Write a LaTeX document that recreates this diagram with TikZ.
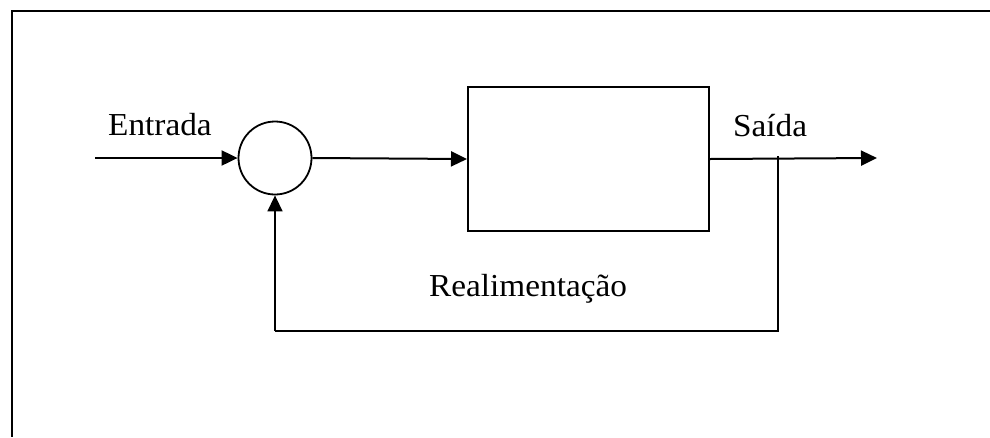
\documentclass[tikz,border=0pt]{standalone}
\usepackage{fontspec}
\setmainfont{Liberation Serif}
\usetikzlibrary{arrows.meta}
\tikzset{
  conn/.style={line width=2pt},
  fb/.style={line width=1.6pt},
  tip/.style={-{Triangle[length=16pt,width=15pt]}},
  lbl/.style={inner sep=0pt, anchor=base west, font=\fontsize{32}{37}\selectfont},
}
\newcommand{\stretchtxt}[1]{\scalebox{1.04}[1]{#1}}
\begin{document}
\begin{tikzpicture}[x=1pt,y=-1pt]
\useasboundingbox (0,0) rectangle (990,437);
% frame (top and left only)
\draw[line width=2.4pt] (990,11) -- (12,11) -- (12,437);
% nodes
\coordinate (in) at (95,158);
\node[circle, draw, line width=1.8pt, minimum size=73pt, inner sep=0pt] (sum) at (275,158) {};
\node[rectangle, draw, line width=2pt, minimum width=241pt, minimum height=144pt, inner sep=0pt, anchor=north west] (plant) at (467,86) {};
\coordinate (out) at (877,158);
\coordinate (tap) at (778,158);
\coordinate (tapb) at (778,331);
\coordinate (retb) at (275,331);
% connectors
\draw[conn,tip] (in) -- (sum.west);
\draw[conn,tip] (sum.east) -- (plant.west);
\draw[conn,tip] (plant.east) -- (out);
\draw[fb] ([yshift=2pt]tap) -- (tapb) -- (retb);
\draw[fb,tip] (retb) -- (sum.south);
% labels
\node[lbl] (lin) at (108,135) {\stretchtxt{Entrada}};
\node[lbl] (lout) at (733,136) {\stretchtxt{Saída}};
\node[lbl] (lfb) at (429,296) {\stretchtxt{Realimentação}};
\end{tikzpicture}
\end{document}
